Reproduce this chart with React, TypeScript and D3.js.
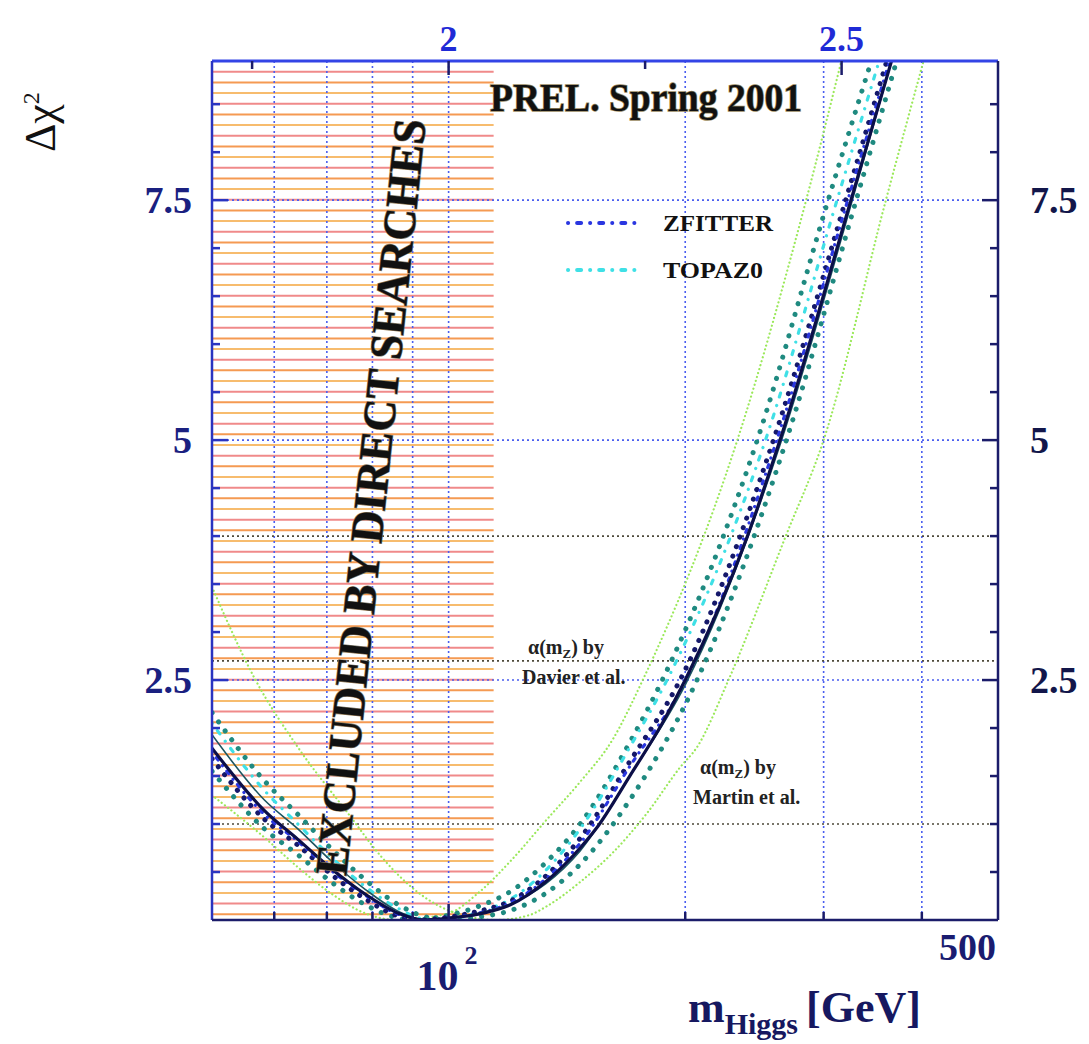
import * as d3 from "d3";

// Higgs mass fit, Delta chi^2 vs m_H (GeV)
const massDomain: [number, number] = [50, 500];
const chi2Domain: [number, number] = [0, 8.95];
const excludedBelow = 114.1;

const xGridMasses = [60, 70, 80, 90, 100, 200, 300, 400];
const bottomTickMasses = [60, 70, 80, 90, 100, 200, 300, 400];
const yGridLevels = [2.5, 5, 7.5];
const yLabelLevels = [2.5, 5, 7.5];
const clLevels = [1, 2.7, 4];
const topTickLogs = [1.75, 2, 2.25, 2.5];
const topLabelLogs = [2, 2.5];

// main fit, alpha(mZ) by Davier et al.
const davierFit: [number, number][] = [
  [50, 1.79], [58.3, 1.14], [64.3, 0.84], [70.8, 0.54], [78.3, 0.27], [86.3, 0.07], [93, 0],
  [100, 0.02], [109, 0.06], [120, 0.16], [133, 0.4], [147, 0.75], [154, 0.95], [170, 1.5],
  [187, 2.05], [200, 2.5], [240, 4.0], [264, 5.0], [325, 7.5], [366, 8.95],
];
const thinSolid: [number, number][] = [
  [50, 1.93], [58.3, 1.25], [64.3, 0.95], [70.8, 0.62], [78.3, 0.32], [86.3, 0.09], [94, 0],
  [100, 0.02], [109, 0.07], [120, 0.17], [133, 0.38], [147, 0.72], [170, 1.5], [200, 2.45],
  [264, 4.95], [325, 7.45], [366, 8.95],
];
const zfitter: [number, number][] = [
  [50, 1.75], [58.3, 1.1], [64.3, 0.82], [70.8, 0.52], [78.3, 0.26], [86.3, 0.06], [93, 0],
  [100, 0.02], [109, 0.07], [120, 0.18], [133, 0.43], [147, 0.8], [170, 1.6], [200.5, 2.5],
  [261.5, 5.0], [322, 7.5], [364, 8.95],
];
const topaz0: [number, number][] = [
  [50, 2.05], [58.3, 1.35], [64.3, 1.0], [70.8, 0.66], [78.3, 0.35], [86.3, 0.12], [93, 0.01],
  [98, 0], [109, 0.08], [120, 0.22], [133, 0.52], [147, 0.95], [170, 1.8], [189.6, 2.5],
  [253, 5.0], [312, 7.5], [353, 8.95],
];
const navyDots: [number, number][] = [
  [50, 1.68], [58.3, 1.05], [64.3, 0.78], [70.8, 0.48], [78.3, 0.22], [86.3, 0.04], [92, 0],
  [100, 0.03], [109, 0.09], [120, 0.2], [133, 0.46], [147, 0.85], [170, 1.65], [197, 2.5],
  [259, 5.0], [320, 7.5], [361, 8.95],
];
const tealLow: [number, number][] = [
  [50, 1.55], [58.3, 0.95], [64.3, 0.68], [70.8, 0.4], [78.3, 0.16], [86.3, 0.02], [90, 0],
  [100, 0.05], [109, 0.14], [120, 0.3], [133, 0.6], [147, 1.0], [170, 1.85], [187, 2.5],
  [247, 5.0], [304, 7.5], [345, 8.95],
];
const tealHigh: [number, number][] = [
  [50, 2.16], [58.3, 1.45], [64.3, 1.1], [70.8, 0.75], [78.3, 0.42], [86.3, 0.16], [95, 0.02],
  [102, 0], [109, 0.03], [120, 0.1], [133, 0.28], [147, 0.58], [170, 1.25], [207, 2.5],
  [269, 5.0], [330, 7.5], [371.5, 8.95],
];
// alpha(mZ) by Martin et al. (light green dotted pair)
const greenLow: [number, number][] = [
  [50, 1.3], [58.3, 0.86], [64.3, 0.55], [70.8, 0.28], [78.3, 0.07], [86, 0], [100, 0.07],
  [109, 0.28], [120.4, 0.63], [133.1, 1.04], [146.7, 1.43], [161.7, 1.88], [176.6, 2.5],
  [233, 5.0], [285, 7.5], [316, 8.95],
];
const greenHigh: [number, number][] = [
  [50, 3.47], [56.8, 2.5], [64.3, 1.8], [74.5, 1.11], [82.1, 0.66], [90.7, 0.31], [100, 0.1],
  [115, 0], [126.6, 0.05], [133.1, 0.14], [146.7, 0.39], [161.7, 0.7], [178.7, 1.11],
  [197, 1.59], [207, 1.8], [227, 2.5], [268.5, 4.0], [300, 5.0], [360, 7.5], [402, 8.95],
];

const legendItems = [
  { name: "ZFITTER", color: "#2a36e0", dash: "0.1 9 4 9" },
  { name: "TOPAZ0", color: "#3fe0e6", dash: "0.1 9 4 9" },
];

const serif = "'Liberation Serif', 'Times New Roman', serif";

export default function App() {
  const W = 1089;
  const H = 1044;
  const x = d3.scaleLog().domain(massDomain).range([212, 998]);
  const y = d3.scaleLinear().domain(chi2Domain).range([920, 61]);
  const [x0, x1] = x.range();
  const [yb, yt] = y.range();
  const logX = d3.scaleLinear().domain([Math.log10(massDomain[0]), Math.log10(massDomain[1])]).range([x0, x1]);

  const line = d3
    .line<[number, number]>()
    .x((d) => x(d[0]))
    .y((d) => y(d[1]))
    .curve(d3.curveMonotoneX);

  const hatch = d3.range(0.06, chi2Domain[1], 1 / 9);
  const hatchColors = ["#f59a52", "#f08a8a", "#f7bc6e"];
  const minorY = d3.range(0.5, 9, 0.5);

  return (
    <svg width={W} height={H} style={{ position: "absolute", left: 0, top: 0, background: "#fff" }}>
      <defs>
        <clipPath id="plot">
          <rect x={x0} y={yt} width={x1 - x0} height={yb - yt} />
        </clipPath>
      </defs>

      {/* excluded region */}
      <g>
        {hatch.map((v, i) => (
          <line key={i} x1={x0} x2={x(excludedBelow)} y1={y(v)} y2={y(v)} stroke={hatchColors[i % 3]} strokeWidth={2} />
        ))}
      </g>

      {/* grid */}
      <g stroke="#4a5ef0" strokeWidth={1.6} strokeDasharray="2 3">
        {xGridMasses.map((m) => (
          <line key={m} x1={x(m)} x2={x(m)} y1={yt} y2={yb} />
        ))}
        {yGridLevels.map((v) => (
          <line key={v} x1={x0} x2={x1} y1={y(v)} y2={y(v)} />
        ))}
      </g>
      <g stroke="#4d4a3a" strokeWidth={1.6} strokeDasharray="2 3">
        {clLevels.map((v) => (
          <line key={v} x1={x0} x2={x1} y1={y(v)} y2={y(v)} />
        ))}
      </g>

      {/* curves */}
      <g clipPath="url(#plot)" fill="none" strokeLinecap="round">
        <path d={line(greenLow) ?? ""} stroke="#9be85a" strokeWidth={2.2} strokeDasharray="0.1 4" />
        <path d={line(greenHigh) ?? ""} stroke="#9be85a" strokeWidth={2.2} strokeDasharray="0.1 4" />
        <path d={line(tealLow) ?? ""} stroke="#1f8a80" strokeWidth={5} strokeDasharray="0.1 11" />
        <path d={line(tealHigh) ?? ""} stroke="#1f8a80" strokeWidth={5} strokeDasharray="0.1 11" />
        <path d={line(topaz0) ?? ""} stroke="#3fe0e6" strokeWidth={3.2} strokeDasharray="0.1 9 4 9" />
        <path d={line(navyDots) ?? ""} stroke="#15186a" strokeWidth={5} strokeDasharray="0.1 10" />
        <path d={line(zfitter) ?? ""} stroke="#2a36e0" strokeWidth={3.2} strokeDasharray="0.1 7 3 7" />
        <path d={line(thinSolid) ?? ""} stroke="#1c5560" strokeWidth={1.6} />
        <path d={line(davierFit) ?? ""} stroke="#0c0f48" strokeWidth={3.2} />
      </g>

      {/* frame */}
      <line x1={x0} x2={x1} y1={yt} y2={yt} stroke="#3344e6" strokeWidth={3} />
      <line x1={x0} x2={x0} y1={yt} y2={yb} stroke="#2a34c0" strokeWidth={2.5} />
      <line x1={x1} x2={x1} y1={yt} y2={yb} stroke="#1b1c6a" strokeWidth={2.5} />
      <line x1={x0} x2={x1} y1={yb} y2={yb} stroke="#1b1c6a" strokeWidth={2.5} />

      {/* ticks */}
      <g stroke="#1b1c6a" strokeWidth={2.5}>
        {minorY.map((v) => {
          const len = v % 2.5 === 0 ? 16 : 8;
          return (
            <g key={v}>
              <line x1={x0} x2={x0 + len} y1={y(v)} y2={y(v)} stroke="#2a34c0" />
              <line x1={x1} x2={x1 - len} y1={y(v)} y2={y(v)} />
            </g>
          );
        })}
        {bottomTickMasses.map((m) => (
          <line key={m} x1={x(m)} x2={x(m)} y1={yb} y2={yb - (m === 100 ? 16 : 8)} />
        ))}
        {topTickLogs.map((l) => (
          <line key={l} x1={logX(l)} x2={logX(l)} y1={yt} y2={yt + (topLabelLogs.includes(l) ? 14 : 8)} stroke="#1b1c6a" />
        ))}
      </g>

      {/* tick labels */}
      <g fontFamily={serif} fontWeight="bold" fontSize={38}>
        {yLabelLevels.map((v) => (
          <text key={"l" + v} x={192} y={y(v)} dy="0.35em" textAnchor="end" fill="#1a2080">
            {String(v)}
          </text>
        ))}
        {yLabelLevels.map((v) => (
          <text key={"r" + v} x={1030} y={y(v)} dy="0.35em" textAnchor="start" fill="#12164a">
            {String(v)}
          </text>
        ))}
        {topLabelLogs.map((l) => (
          <text key={l} x={logX(l)} y={51} textAnchor="middle" fill="#1f2ad6" fontSize={36}>
            {String(l)}
          </text>
        ))}
        <text x={x(100) - 32} y={990} fill="#1a1c70" fontSize={42}>
          10
          <tspan dx={6} dy={-26} fontSize={26}>2</tspan>
        </text>
        <text x={x1 - 2} y={960} textAnchor="end" fill="#1a1c70" fontSize={38}>500</text>
      </g>

      {/* axis titles */}
      <text x={688} y={1022} fontFamily={serif} fontWeight="bold" fontSize={44} fill="#161860">
        m
        <tspan dy={12} fontSize={30}>Higgs</tspan>
        <tspan dy={-12} dx={8} fontSize={44}>[GeV]</tspan>
      </text>
      <text transform="translate(55,152) rotate(-90)" fontFamily={serif} fontSize={44} fill="#111">
        Δχ
        <tspan dy={-16} fontSize={24}>2</tspan>
      </text>

      {/* annotations */}
      <text
        transform="translate(370,497) rotate(-84)"
        textAnchor="middle"
        dy="0.35em"
        fontFamily={serif}
        fontWeight="bold"
        fontSize={46}
        textLength={760}
        lengthAdjust="spacingAndGlyphs"
        fill="#111"
        stroke="#8a7a60"
        strokeWidth={1.2}
        paintOrder="stroke"
      >
        EXCLUDED BY DIRECT SEARCHES
      </text>
      <text
        x={490}
        y={111}
        fontFamily={serif}
        fontWeight="bold"
        fontSize={40}
        textLength={312}
        lengthAdjust="spacingAndGlyphs"
        fill="#111"
        stroke="#9a8a60"
        strokeWidth={1.5}
        paintOrder="stroke"
      >
        PREL. Spring 2001
      </text>

      {/* legend */}
      {legendItems.map((it, i) => (
        <g key={it.name}>
          <line
            x1={568}
            x2={642}
            y1={223 + i * 47}
            y2={223 + i * 47}
            stroke={it.color}
            strokeWidth={4}
            strokeLinecap="round"
            strokeDasharray={it.dash}
          />
          <text
            x={663}
            y={223 + i * 47}
            dy="0.35em"
            fontFamily={serif}
            fontWeight="bold"
            fontSize={24}
            textLength={it.name === "ZFITTER" ? 110 : 100}
            lengthAdjust="spacingAndGlyphs"
            fill="#111"
          >
            {it.name}
          </text>
        </g>
      ))}

      <g fontFamily={serif} fontWeight="bold" fontSize={20} fill="#222">
        <text x={528} y={654}>
          α(m<tspan dy={4} fontSize={13}>Z</tspan><tspan dy={-4}>) by</tspan>
        </text>
        <text x={522} y={684}>Davier et al.</text>
        <text x={700} y={774}>
          α(m<tspan dy={4} fontSize={13}>Z</tspan><tspan dy={-4}>) by</tspan>
        </text>
        <text x={693} y={804}>Martin et al.</text>
      </g>
    </svg>
  );
}
